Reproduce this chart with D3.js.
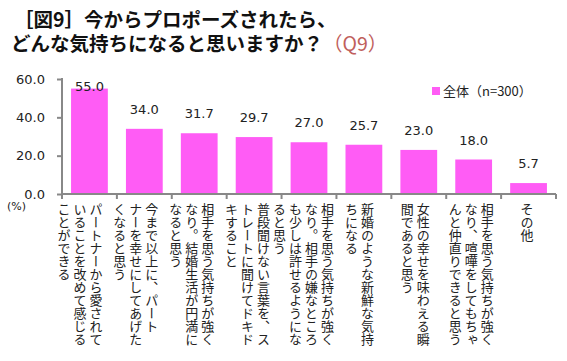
<!DOCTYPE html>
<html>
<head>
<meta charset="utf-8">
<script src="https://cdn.jsdelivr.net/npm/d3@7"></script>
<style>
  body { margin: 0; background: #fff; }
  svg { display: block; }
</style>
</head>
<body>
<div id="chart"></div>
<script>
// categories, each split into the columns shown under the bar (read right to left)
var categories = [
  ["パートナーから愛されて", "いることを改めて感じる", "ことができる"],
  ["今まで以上に、パート", "ナーを幸せにしてあげた", "くなると思う"],
  ["相手を思う気持ちが強く", "なり。結婚生活が円満に", "なると思う"],
  ["普段聞けない言葉を、ス", "トレートに聞けてドキド", "キすること"],
  ["相手を思う気持ちが強く", "なり。相手の嫌なところ", "も少しは許せるようにな", "ると思う"],
  ["新婚のような新鮮な気持", "ちになる"],
  ["女性の幸せを味わえる瞬", "間であると思う"],
  ["相手を思う気持ちが強く", "なり、喧嘩をしてもちゃ", "んと仲直りできると思う"],
  ["その他"]
];
var values = [55.0, 34.0, 31.7, 29.7, 27.0, 25.7, 23.0, 18.0, 5.7];
var yTicks = [0, 20, 40, 60];
var seriesName = "全体（n=300）";

var width = 567, height = 361;
var plotLeft = 62, plotRight = 556, plotTop = 79, plotBottom = 194;
var numFont = "'DejaVu Sans', 'Noto Sans CJK JP', sans-serif";
var jpFont = "'Noto Sans CJK JP', sans-serif";

var svg = d3.select("#chart").append("svg")
    .attr("width", width)
    .attr("height", height);

// title
svg.append("text")
    .attr("x", 14).attr("y", 27)
    .attr("font-family", jpFont)
    .attr("font-size", 19.5)
    .attr("font-weight", "bold")
    .attr("fill", "#111")
    .text("［図9］今からプロポーズされたら、");
svg.append("text")
    .attr("x", 11).attr("y", 51)
    .attr("font-family", jpFont)
    .attr("font-size", 19.5)
    .attr("font-weight", "bold")
    .attr("fill", "#111")
    .text("どんな気持ちになると思いますか？")
  .append("tspan").attr("font-weight", "normal").attr("fill", "#c0605c").text("（Q9）");

var x = d3.scaleBand()
    .domain(d3.range(values.length))
    .range([plotLeft, plotRight])
    .paddingInner(0.33)
    .paddingOuter(0.165);

var y = d3.scaleLinear()
    .domain([0, 60])
    .range([plotBottom, plotTop]);

// bars
svg.append("g").selectAll("rect")
    .data(values)
    .join("rect")
    .attr("x", function(d, i) { return x(i); })
    .attr("y", function(d) { return y(d); })
    .attr("width", x.bandwidth())
    .attr("height", function(d) { return y(0) - y(d); })
    .attr("fill", "#ff5cf5");

// value labels (pushed down when they would leave the plot)
svg.append("g").selectAll("text")
    .data(values)
    .join("text")
    .attr("x", function(d, i) { return x(i) + x.bandwidth() / 2; })
    .attr("y", function(d) { return Math.max(y(d) - 15, plotTop + 12); })
    .attr("text-anchor", "middle")
    .attr("font-family", numFont)
    .attr("font-size", 13)
    .attr("fill", "#222")
    .text(function(d) { return d.toFixed(1); });

// y axis
var yAxis = svg.append("g")
    .attr("transform", "translate(" + plotLeft + ",0)")
    .call(d3.axisLeft(y).tickValues(yTicks).tickSize(5).tickPadding(12)
      .tickFormat(function(d) { return d.toFixed(1); }));
yAxis.select(".domain").attr("stroke", "#888").attr("stroke-width", 2)
    .attr("d", "M0," + (plotTop - 1) + "V" + plotBottom);
yAxis.selectAll(".tick line").attr("stroke", "#888").attr("stroke-width", 2);
yAxis.selectAll(".tick text")
    .attr("font-family", numFont).attr("font-size", 13).attr("fill", "#222");

// x axis with ticks between categories
var xAxis = svg.append("g")
    .attr("transform", "translate(0," + plotBottom + ")");
xAxis.append("line")
    .attr("x1", plotLeft).attr("x2", plotRight)
    .attr("stroke", "#888").attr("stroke-width", 2);
var step = x.step();
xAxis.selectAll(".sep")
    .data(d3.range(values.length + 1))
    .join("line")
    .attr("class", "sep")
    .attr("x1", function(i) { return x(0) - x.paddingOuter() * step + i * step; })
    .attr("x2", function(i) { return x(0) - x.paddingOuter() * step + i * step; })
    .attr("y1", 0).attr("y2", 5)
    .attr("stroke", "#888").attr("stroke-width", 2);

svg.append("text")
    .attr("x", 7).attr("y", 210)
    .attr("font-family", numFont)
    .attr("font-size", 11)
    .attr("fill", "#222")
    .text("(%)");

// vertical category labels, columns right to left
var pitch = 16;
var catG = svg.append("g").selectAll("g")
    .data(categories)
    .join("g");
catG.each(function(cols, i) {
  var cx = x(i) + x.bandwidth() / 2 - (9.5 - i);
  var firstX = cx + (cols.length - 1) * pitch / 2;
  d3.select(this).selectAll("text")
    .data(cols)
    .join("text")
    .attr("x", function(d, j) { return firstX - j * pitch; })
    .attr("y", 203)
    .style("writing-mode", "vertical-rl")
    .attr("font-family", jpFont)
    .attr("font-size", 13)
    .attr("fill", "#222")
    .text(function(d) { return d; });
});

// legend
svg.append("rect")
    .attr("x", 432).attr("y", 87)
    .attr("width", 8).attr("height", 8)
    .attr("fill", "#ff5cf5");
svg.append("text")
    .attr("x", 443).attr("y", 96)
    .attr("font-family", jpFont)
    .attr("font-size", 13)
    .attr("fill", "#222")
    .text(seriesName);
</script>
</body>
</html>
